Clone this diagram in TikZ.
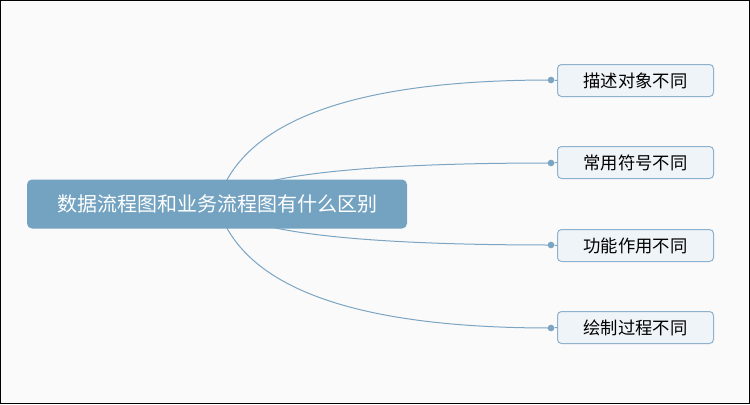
\documentclass[tikz,border=0pt]{standalone}
\usepackage{fontspec}
\newfontfamily\cjk{Noto Sans CJK SC}
\usetikzlibrary{calc,backgrounds}
\definecolor{mainblue}{HTML}{74A3C2}
\definecolor{linkblue}{HTML}{7CA4C3}
\definecolor{leafline}{HTML}{8EB2CE}
\definecolor{leaffill}{HTML}{EFF4F8}
\definecolor{paper}{HTML}{FAFAFA}
\tikzset{
  topic/.style={rounded corners=3.75pt,fill=mainblue,text=white,minimum width=285pt,minimum height=36.75pt,inner sep=0pt,font=\cjk\fontsize{15pt}{18pt}\selectfont},
  leaf/.style={rounded corners=3pt,draw=leafline,line width=0.75pt,fill=leaffill,text=black,minimum width=117pt,minimum height=24pt,inner sep=0pt,font=\cjk\fontsize{13pt}{15pt}\selectfont},
  link/.style={draw=linkblue,line width=0.75pt},
  dot/.style={circle,fill=linkblue,inner sep=0pt,minimum size=5pt}
}
\begin{document}
\begin{tikzpicture}[x=0.75pt,y=-0.75pt]
    \useasboundingbox (0,0) rectangle (750,404);
    \node[topic] (main) at (217,204) {数据流程图和业务流程图有什么区别};
    \node[leaf] (d1) at (635.5,80.5) {描述对象不同};
    \node[leaf] (d2) at (635.5,162.5) {常用符号不同};
    \node[leaf] (d3) at (635.5,245.5) {功能作用不同};
    \node[leaf] (d4) at (635.5,327.5) {绘制过程不同};
    \foreach \i/\y in {1/80,2/163,3/245,4/328}{
      \node[dot] (p\i) at (551,\y) {};
      \draw[link] (p\i) -- (d\i.west);
    }
    \begin{scope}[on background layer]
    \fill[paper] (0,0) rectangle (750,404);
    \draw[black,line width=0.75pt] (0.5,0.5) rectangle (749.5,403.5);
    \foreach \i/\y in {1/80,2/163,3/245,4/328}
      \draw[link] (main.center) .. controls ($(main.center)!2/3!(252,\y)$) and ($(p\i.center)!2/3!(252,\y)$) .. (p\i.center);
    \end{scope}
\end{tikzpicture}
\end{document}
